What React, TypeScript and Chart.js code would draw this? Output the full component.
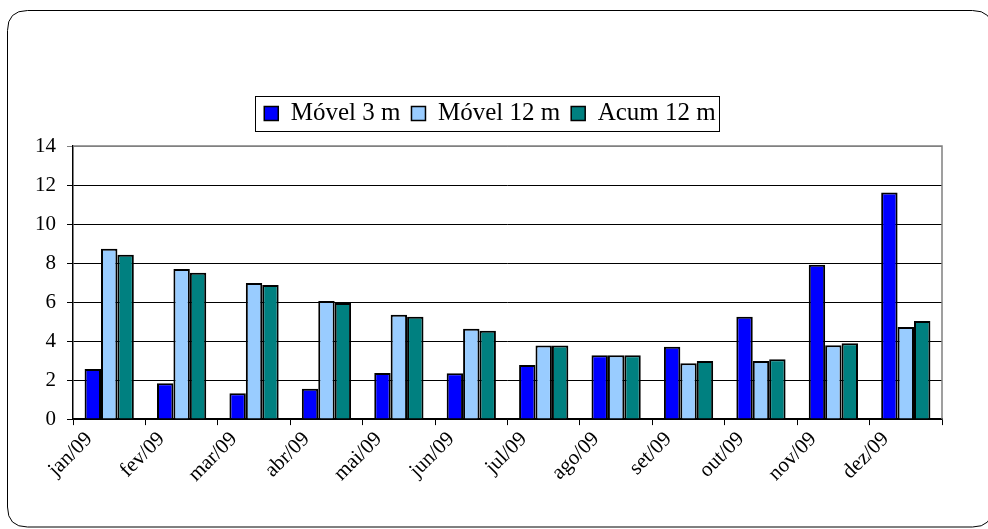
import React, { useEffect, useRef } from "react";
import { Chart, registerables } from "chart.js";

Chart.register(...registerables);

const categories = ["jan/09", "fev/09", "mar/09", "abr/09", "mai/09", "jun/09", "jul/09", "ago/09", "set/09", "out/09", "nov/09", "dez/09"];
const movel3m = [2.57, 1.84, 1.32, 1.56, 2.37, 2.35, 2.78, 3.28, 3.71, 5.25, 7.91, 11.62];
const movel12m = [8.73, 7.7, 6.98, 6.06, 5.35, 4.63, 3.77, 3.28, 2.87, 2.98, 3.79, 4.72];
const acum12m = [8.42, 7.5, 6.88, 5.95, 5.25, 4.53, 3.77, 3.28, 2.98, 3.07, 3.89, 5.03];
const seriesLabels = ["Móvel 3 m", "Móvel 12 m", "Acum 12 m"];
const seriesColors = ["#0000FF", "#99CCFF", "#008080"];
const yTicks = [0, 2, 4, 6, 8, 10, 12, 14];

const FONT = "'Times New Roman', 'Liberation Serif', serif";
const LEGEND_EXTRA = 10;
const LEGEND_SHIFT = 7;

const framePlugin = {
  id: "frame",
  beforeLayout(chart: any) {
    const lg = chart.legend;
    if (lg && !lg.__patched) {
      const proto = Object.getPrototypeOf(lg);
      lg.fit = function () {
        proto.fit.call(this);
        this.height += LEGEND_EXTRA;
      };
      lg.__patched = true;
    }
  },
  afterLayout(chart: any) {
    const lg = chart.legend;
    if (lg) {
      lg.left += LEGEND_SHIFT;
      lg.right += LEGEND_SHIFT;
    }
  },
  beforeDraw(chart: any) {
    const ctx = chart.ctx;
    ctx.save();
    ctx.fillStyle = "#ffffff";
    ctx.fillRect(0, 0, chart.width, chart.height);
    ctx.strokeStyle = "#000000";
    ctx.lineWidth = 1;
    const x = 7.5, y = 10.5, w = 985, h = 516.5, r = 20;
    ctx.beginPath();
    ctx.moveTo(x + r, y);
    ctx.lineTo(x + w - r, y);
    ctx.quadraticCurveTo(x + w, y, x + w, y + r);
    ctx.lineTo(x + w, y + h - r);
    ctx.quadraticCurveTo(x + w, y + h, x + w - r, y + h);
    ctx.lineTo(x + r, y + h);
    ctx.quadraticCurveTo(x, y + h, x, y + h - r);
    ctx.lineTo(x, y + r);
    ctx.quadraticCurveTo(x, y, x + r, y);
    ctx.stroke();
    ctx.restore();
  },
  afterDraw(chart: any) {
    const ctx = chart.ctx;
    const a = chart.chartArea;
    ctx.save();
    ctx.strokeStyle = "#808080";
    ctx.lineWidth = 1.5;
    ctx.beginPath();
    ctx.moveTo(a.left, a.top);
    ctx.lineTo(a.right, a.top);
    ctx.lineTo(a.right, a.bottom);
    ctx.stroke();
    const lg = chart.legend;
    if (lg && lg.legendHitBoxes && lg.legendHitBoxes.length) {
      const boxes = lg.legendHitBoxes;
      let minX = Infinity, maxX = -Infinity, minY = Infinity, maxY = -Infinity;
      boxes.forEach((b: any) => {
        minX = Math.min(minX, b.left);
        maxX = Math.max(maxX, b.left + b.width);
        minY = Math.min(minY, b.top);
        maxY = Math.max(maxY, b.top + b.height);
      });
      ctx.strokeStyle = "#000000";
      ctx.lineWidth = 1;
      const l = Math.round(minX - 9) + 0.5;
      const t = Math.round(minY - 5) + 0.5;
      const r = Math.round(maxX + 3) + 0.5;
      const b = Math.round(maxY + 5) + 0.5;
      ctx.strokeRect(l, t, r - l, b - t);
    }
    ctx.restore();
  },
};

export default function App() {
  const ref = useRef<HTMLCanvasElement | null>(null);
  useEffect(() => {
    if (!ref.current) return;
    const chart = new Chart(ref.current, {
      type: "bar",
      data: {
        labels: categories,
        datasets: [movel3m, movel12m, acum12m].map((d, i) => ({
          label: seriesLabels[i],
          data: d,
          backgroundColor: seriesColors[i],
          borderColor: "#000000",
          borderWidth: 2,
          barPercentage: 1,
          categoryPercentage: 0.68,
        })),
      },
      options: {
        responsive: false,
        animation: false,
        devicePixelRatio: 1,
        layout: { padding: { top: 90, left: 24, right: 46, bottom: 40 } },
        plugins: {
          tooltip: { enabled: false },
          legend: {
            position: "top",
            labels: {
              font: { family: FONT, size: 25 },
              color: "#000000",
              boxWidth: 14,
              boxHeight: 14,
              padding: 11,
              generateLabels: (chart: any) =>
                chart.data.datasets.map((ds: any, i: number) => ({
                  text: ds.label,
                  fillStyle: ds.backgroundColor,
                  strokeStyle: "#000000",
                  lineWidth: 1.5,
                  datasetIndex: i,
                  hidden: false,
                })),
            },
          },
        },
        scales: {
          x: {
            grid: { display: true, offset: true, drawOnChartArea: false, drawTicks: true, tickLength: 6, color: "#000000" },
            border: { display: true, color: "#000000", width: 1.5 },
            ticks: {
              font: { family: FONT, size: 21 },
              color: "#000000",
              minRotation: 45,
              maxRotation: 45,
              autoSkip: false,
              padding: 2,
              labelOffset: -20,
            },
          },
          y: {
            min: 0,
            max: 14,
            afterBuildTicks: (scale: any) => {
              scale.ticks = yTicks.map((v) => ({ value: v }));
            },
            grid: {
              color: (c: any) => (c.tick && c.tick.value === 14 ? "#808080" : "#000000"),
              lineWidth: 1,
              tickLength: 6,
              drawTicks: true,
            },
            border: { display: true, color: "#000000", width: 1.5 },
            ticks: {
              font: { family: FONT, size: 21 },
              color: "#000000",
              padding: 11,
            },
          },
        },
      },
      plugins: [framePlugin],
    });
    return () => chart.destroy();
  }, []);
  return (
    <div style={{ position: "absolute", left: 0, top: 0, width: 988, height: 529, background: "#fff" }}>
      <canvas ref={ref} width={988} height={529} style={{ display: "block" }} />
    </div>
  );
}
